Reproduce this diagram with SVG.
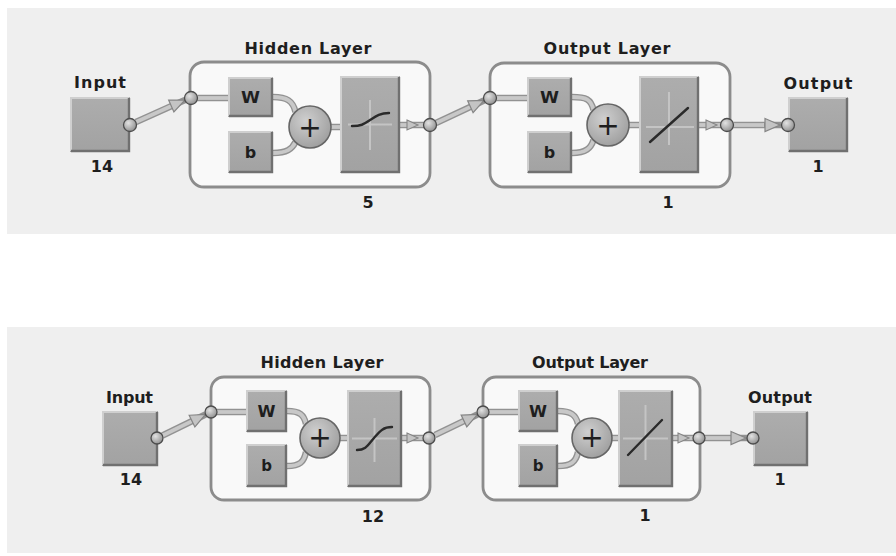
<svg xmlns="http://www.w3.org/2000/svg" width="896" height="556" viewBox="0 0 896 556">
<defs>
<radialGradient id="gc" cx="0.38" cy="0.35" r="0.7">
<stop offset="0" stop-color="#e2e2e2"/><stop offset="1" stop-color="#8e8e8e"/>
</radialGradient>
<radialGradient id="gp" cx="0.4" cy="0.35" r="0.75">
<stop offset="0" stop-color="#cfcfcf"/><stop offset="1" stop-color="#9a9a9a"/>
</radialGradient>
<linearGradient id="gb" x1="0" y1="0" x2="0" y2="1">
<stop offset="0" stop-color="#adadad"/><stop offset="1" stop-color="#a2a2a2"/>
</linearGradient>
<marker id="ahL" markerWidth="18" markerHeight="16" refX="16" refY="7" orient="auto" markerUnits="userSpaceOnUse" overflow="visible">
<path d="M1,0.5 L16,7 L1,13.5 Z" fill="#c4c4c4" stroke="#858585" stroke-width="1.2"/>
</marker>
<marker id="ahS" markerWidth="14" markerHeight="12" refX="12" refY="6" orient="auto" markerUnits="userSpaceOnUse" overflow="visible">
<path d="M1,1 L12,6 L1,11 Z" fill="#c4c4c4" stroke="#858585" stroke-width="1.1"/>
</marker>
</defs>
<style>
.panel{fill:#efefef}
.lbl{font-family:"DejaVu Sans","Liberation Sans",sans-serif;font-weight:bold;fill:#1e1e1e;text-anchor:middle}
.t15{font-size:16px}
.layer{fill:#f9f9f9;stroke:#8c8c8c;stroke-width:2.8}
.box{fill:url(#gb)}
.hl{fill:none;stroke:#cfcfcf;stroke-width:2}
.sh{fill:none;stroke:#707070;stroke-width:2.4}
.port{fill:url(#gc);stroke:#4c4c4c;stroke-width:1.3}
.sum{fill:url(#gp);stroke:#666;stroke-width:1.6}
.plus{font-family:"DejaVu Sans",sans-serif;font-size:28px;fill:#1e1e1e;text-anchor:middle}
.cw{fill:none;stroke:#929292;stroke-width:6.5;stroke-linecap:butt}
.ci{fill:none;stroke:#c8c8c8;stroke-width:3.8;stroke-linecap:butt}
.ahl{fill:none;stroke:none;marker-end:url(#ahL)}
.ahs{fill:none;stroke:none;marker-end:url(#ahS)}
.cross{stroke:#c4c4c4;stroke-width:2;fill:none}
.fn{stroke:#2a2a2a;stroke-width:2.4;fill:none;stroke-linecap:round}
</style>
<rect width="896" height="556" fill="#ffffff"/>
<rect class="panel" x="7" y="8" width="889" height="226"/>
<rect class="panel" x="7" y="327" width="889" height="226"/>

<!-- ===== TOP DIAGRAM ===== -->
<g id="top-layers-frames">
<rect class="layer" x="190" y="62" width="240" height="125" rx="14"/>
<rect class="layer" x="490" y="63" width="240" height="124" rx="14"/>
</g>

<g id="top-connectors">
<path class="cw" d="M136,122 L185,100"/><path class="ci" d="M136,122 L172,105.8"/><path class="ahl" d="M160,111 L185,100"/>
<path class="cw" d="M436,123 L484,100.5"/><path class="ci" d="M436,123 L471,106.6"/><path class="ahl" d="M459,112 L484,100.5"/>
<path class="cw" d="M733.5,125 L781.5,125"/><path class="ci" d="M733.5,125 L764,125"/><path class="ahl" d="M760,125 L780,125"/>
<path class="cw" d="M197.5,98 L228,98"/><path class="ci" d="M197.5,98 L228,98"/>
<path class="cw" d="M273,97 C287,97 293,101 295.5,112"/><path class="ci" d="M273,97 C287,97 293,101 295.5,112"/>
<path class="cw" d="M273,153 C287,153 292,149 295.5,142"/><path class="ci" d="M273,153 C287,153 292,149 295.5,142"/>
<path class="cw" d="M331,127 L340,127"/><path class="ci" d="M331,127 L340,127"/>
<path class="cw" d="M400,125 L424,125"/><path class="ci" d="M400,125 L424,125"/><path class="ahs" d="M405,125 L418,125"/>
<path class="cw" d="M496.5,98 L527,98"/><path class="ci" d="M496.5,98 L527,98"/>
<path class="cw" d="M572,97 C586,97 591,99 593.5,110"/><path class="ci" d="M572,97 C586,97 591,99 593.5,110"/>
<path class="cw" d="M572,153 C586,153 591,148 593.5,140"/><path class="ci" d="M572,153 C586,153 591,148 593.5,140"/>
<path class="cw" d="M629,125 L639,125"/><path class="ci" d="M629,125 L639,125"/>
<path class="cw" d="M699,125 L721,125"/><path class="ci" d="M699,125 L721,125"/><path class="ahs" d="M704,125 L717,125"/>
</g>

<g id="top-input">
<text class="lbl t15" x="100" y="88" textLength="52" lengthAdjust="spacing">Input</text>
<rect class="box" x="70" y="97" width="60" height="55"/>
<polyline class="hl" points="71,151 71,98 129,98"/>
<polyline class="sh" points="71,151 129,151 129,98"/>
<circle class="port" cx="130" cy="125" r="6.5"/>
<text class="lbl t15" x="102" y="172">14</text>
</g>

<g id="top-hidden-layer">
<text class="lbl t15" x="308" y="54" textLength="127" lengthAdjust="spacing">Hidden Layer</text>
<circle class="port" cx="191" cy="98" r="6.5"/>
<rect class="box" x="228" y="77" width="45" height="40"/>
<polyline class="hl" points="229,116 229,78 272,78"/>
<polyline class="sh" points="229,116 272,116 272,78"/>
<text class="lbl" x="250.5" y="103" font-size="16" textLength="19" lengthAdjust="spacingAndGlyphs">W</text>
<rect class="box" x="228" y="131" width="45" height="42"/>
<polyline class="hl" points="229,172 229,132 272,132"/>
<polyline class="sh" points="229,172 272,172 272,132"/>
<text class="lbl" x="250.5" y="158" font-size="16">b</text>
<circle class="sum" cx="310" cy="127" r="21"/>
<text class="plus" x="310" y="136.5">+</text>
<rect class="box" x="340" y="76" width="60" height="97"/>
<polyline class="hl" points="341,172 341,77 399,77"/>
<polyline class="sh" points="341,172 399,172 399,77"/>
<path class="cross" d="M370,100 L370,150 M348,124.5 L392,124.5"/>
<path class="fn" d="M352,126 C362,126 364,124 370,120 C376,116 380,113 389,113"/>
<circle class="port" cx="430" cy="125" r="6.5"/>
<text class="lbl t15" x="368" y="208">5</text>
</g>

<g id="top-output-layer">
<text class="lbl t15" x="607" y="54" textLength="127" lengthAdjust="spacing">Output Layer</text>
<circle class="port" cx="490" cy="98" r="6.5"/>
<rect class="box" x="527" y="77" width="45" height="40"/>
<polyline class="hl" points="528,116 528,78 571,78"/>
<polyline class="sh" points="528,116 571,116 571,78"/>
<text class="lbl" x="549.5" y="103" font-size="16" textLength="19" lengthAdjust="spacingAndGlyphs">W</text>
<rect class="box" x="527" y="131" width="45" height="42"/>
<polyline class="hl" points="528,172 528,132 571,132"/>
<polyline class="sh" points="528,172 571,172 571,132"/>
<text class="lbl" x="549.5" y="158" font-size="16">b</text>
<circle class="sum" cx="608" cy="125" r="21"/>
<text class="plus" x="608" y="134.5">+</text>
<rect class="box" x="639" y="76" width="60" height="97"/>
<polyline class="hl" points="640,172 640,77 698,77"/>
<polyline class="sh" points="640,172 698,172 698,77"/>
<path class="cross" d="M669,92 L669,145 M646,127 L694,127"/>
<path class="fn" d="M650,142 L688,108"/>
<circle class="port" cx="727" cy="125" r="6.5"/>
<text class="lbl t15" x="668" y="208">1</text>
</g>

<g id="top-output">
<text class="lbl t15" x="818" y="89" textLength="69" lengthAdjust="spacing">Output</text>
<rect class="box" x="788" y="97" width="60" height="55"/>
<polyline class="hl" points="789,151 789,98 847,98"/>
<polyline class="sh" points="789,151 847,151 847,98"/>
<circle class="port" cx="788" cy="125" r="6.5"/>
<text class="lbl t15" x="818" y="172">1</text>
</g>

<!-- ===== BOTTOM DIAGRAM ===== -->
<g id="bottom-layers-frames">
<rect class="layer" x="211" y="377" width="219" height="123" rx="13"/>
<rect class="layer" x="483" y="377" width="217" height="123" rx="13"/>
</g>

<g id="bottom-connectors">
<path class="cw" d="M162.5,435.5 L205.5,414.5"/><path class="ci" d="M162.5,435.5 L193,420.6"/><path class="ahl" d="M183,425.5 L205.5,414.5"/>
<path class="cw" d="M435,435 L477.5,414.5"/><path class="ci" d="M435,435 L465,420.5"/><path class="ahl" d="M455,425.3 L477.5,414.5"/>
<path class="cw" d="M705,438 L747,438"/><path class="ci" d="M705,438 L731,438"/><path class="ahl" d="M727,438 L746,438"/>
<path class="cw" d="M217,412 L246,412"/><path class="ci" d="M217,412 L246,412"/>
<path class="cw" d="M287,411 C300,411 304,415 306,424"/><path class="ci" d="M287,411 C300,411 304,415 306,424"/>
<path class="cw" d="M287,466 C300,466 304,462 306,452"/><path class="ci" d="M287,466 C300,466 304,462 306,452"/>
<path class="cw" d="M340,438 L347,438"/><path class="ci" d="M340,438 L347,438"/>
<path class="cw" d="M402,438 L423,438"/><path class="ci" d="M402,438 L423,438"/><path class="ahs" d="M406,438 L418,438"/>
<path class="cw" d="M489,412 L518,412"/><path class="ci" d="M489,412 L518,412"/>
<path class="cw" d="M558,411 C571,411 576,415 578,424"/><path class="ci" d="M558,411 C571,411 576,415 578,424"/>
<path class="cw" d="M558,466 C571,466 576,462 578,452"/><path class="ci" d="M558,466 C571,466 576,462 578,452"/>
<path class="cw" d="M612,438 L618,438"/><path class="ci" d="M612,438 L618,438"/>
<path class="cw" d="M673,438 L693,438"/><path class="ci" d="M673,438 L693,438"/><path class="ahs" d="M677,438 L689,438"/>
</g>

<g id="bottom-input">
<text class="lbl t15" x="129.5" y="403" textLength="47" lengthAdjust="spacing">Input</text>
<rect class="box" x="102" y="411" width="56" height="55"/>
<polyline class="hl" points="103,465 103,412 157,412"/>
<polyline class="sh" points="103,465 157,465 157,412"/>
<circle class="port" cx="157" cy="438" r="6"/>
<text class="lbl t15" x="131" y="485">14</text>
</g>

<g id="bottom-hidden-layer">
<text class="lbl t15" x="322" y="368" textLength="123" lengthAdjust="spacing">Hidden Layer</text>
<circle class="port" cx="211" cy="412" r="6"/>
<rect class="box" x="246" y="390" width="41" height="42"/>
<polyline class="hl" points="247,431 247,391 286,391"/>
<polyline class="sh" points="247,431 286,431 286,391"/>
<text class="lbl" x="266.5" y="417" font-size="15" textLength="18" lengthAdjust="spacingAndGlyphs">W</text>
<rect class="box" x="246" y="444" width="41" height="43"/>
<polyline class="hl" points="247,486 247,445 286,445"/>
<polyline class="sh" points="247,486 286,486 286,445"/>
<text class="lbl" x="266.5" y="471" font-size="15">b</text>
<circle class="sum" cx="320" cy="438" r="20"/>
<text class="plus" x="320" y="447">+</text>
<rect class="box" x="347" y="390" width="55" height="97"/>
<polyline class="hl" points="348,486 348,391 401,391"/>
<polyline class="sh" points="348,486 401,486 401,391"/>
<path class="cross" d="M374.5,418 L374.5,462 M352,438.5 L397,438.5"/>
<path class="fn" d="M357,450 C366,450 368,445 374,438 C380,431 383,427 392,427"/>
<circle class="port" cx="429" cy="438" r="6"/>
<text class="lbl t15" x="373" y="522">12</text>
</g>

<g id="bottom-output-layer">
<text class="lbl t15" x="590" y="368" textLength="116" lengthAdjust="spacing">Output Layer</text>
<circle class="port" cx="483" cy="412" r="6"/>
<rect class="box" x="518" y="390" width="40" height="42"/>
<polyline class="hl" points="519,431 519,391 557,391"/>
<polyline class="sh" points="519,431 557,431 557,391"/>
<text class="lbl" x="538" y="417" font-size="15" textLength="18" lengthAdjust="spacingAndGlyphs">W</text>
<rect class="box" x="518" y="444" width="40" height="43"/>
<polyline class="hl" points="519,486 519,445 557,445"/>
<polyline class="sh" points="519,486 557,486 557,445"/>
<text class="lbl" x="538" y="471" font-size="15">b</text>
<circle class="sum" cx="592" cy="438" r="20"/>
<text class="plus" x="592" y="447">+</text>
<rect class="box" x="618" y="390" width="55" height="97"/>
<polyline class="hl" points="619,486 619,391 672,391"/>
<polyline class="sh" points="619,486 672,486 672,391"/>
<path class="cross" d="M645.5,405 L645.5,460 M623,438.5 L668,438.5"/>
<path class="fn" d="M628,455 L662,420"/>
<circle class="port" cx="699" cy="438" r="6"/>
<text class="lbl t15" x="645" y="521">1</text>
</g>

<g id="bottom-output">
<text class="lbl t15" x="780" y="403" textLength="64" lengthAdjust="spacing">Output</text>
<rect class="box" x="753" y="411" width="55" height="55"/>
<polyline class="hl" points="754,465 754,412 807,412"/>
<polyline class="sh" points="754,465 807,465 807,412"/>
<circle class="port" cx="753" cy="438" r="6"/>
<text class="lbl t15" x="780" y="485">1</text>
</g>
</svg>
